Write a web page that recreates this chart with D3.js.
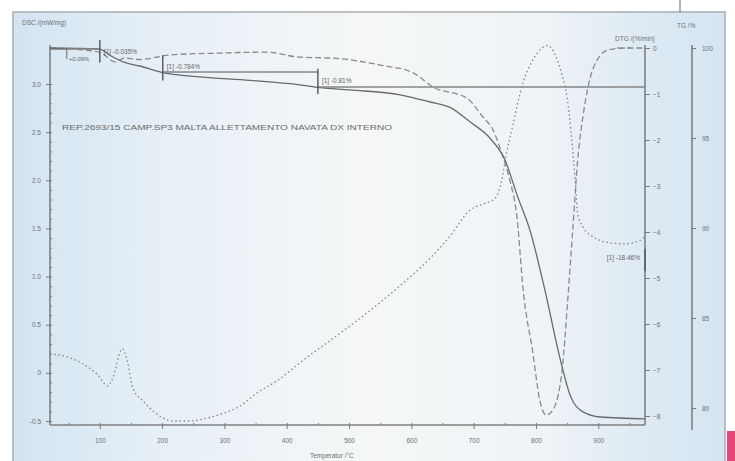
<!DOCTYPE html>
<html>
<head>
<meta charset="utf-8">
<script src="https://cdn.jsdelivr.net/npm/d3@7"></script>
<style>
  body { margin: 0; background: #fff; }
  svg { display: block; font-family: "Liberation Sans", Arial, sans-serif; }
</style>
</head>
<body>
<svg width="735" height="461"></svg>
<script>
// TG curve (mass %)
const tgTemp = [20, 100, 116, 140, 164, 205, 261, 341, 421, 453, 501, 582, 630, 662, 694, 726, 750, 770, 791, 814, 839, 855, 875, 903, 975];
const tgMass = [100, 99.94, 99.6, 99.2, 99.0, 98.6, 98.4, 98.2, 97.95, 97.8, 97.67, 97.4, 97.0, 96.7, 95.9, 95.0, 93.8, 91.8, 89.8, 86.6, 82.7, 80.7, 79.8, 79.5, 79.4];

// DTG curve (%/min)
const dtgTemp = [20, 100, 124, 140, 164, 213, 293, 368, 421, 474, 550, 603, 635, 689, 715, 731, 747, 758, 770, 779, 795, 806, 816, 827, 842, 851, 859, 867, 877, 887, 900, 916, 943, 975];
const dtgRate = [0, -0.09, -0.3, -0.22, -0.25, -0.15, -0.11, -0.09, -0.2, -0.22, -0.37, -0.54, -0.85, -1.09, -1.5, -1.78, -2.37, -2.87, -3.74, -5.2, -6.63, -7.65, -7.98, -7.87, -7.0, -5.48, -3.96, -2.43, -1.35, -0.65, -0.22, -0.04, 0, 0];

// DSC curve (mW/mg)
const dscTemp = [20, 52, 73, 95, 113, 121, 136, 144, 153, 169, 192, 217, 245, 272, 298, 325, 352, 385, 421, 469, 517, 582, 630, 662, 694, 718, 734, 745, 752, 761, 779, 795, 808, 819, 831, 842, 850, 856, 863, 867, 875, 890, 911, 943, 967, 975];
const dscFlow = [0.198, 0.156, 0.094, -0.01, -0.135, -0.05, 0.25, 0.125, -0.16, -0.29, -0.43, -0.5, -0.5, -0.47, -0.42, -0.345, -0.21, -0.08, 0.104, 0.333, 0.563, 0.906, 1.19, 1.42, 1.69, 1.76, 1.81, 2.0, 2.26, 2.52, 3.01, 3.25, 3.365, 3.4, 3.3, 3.09, 2.86, 2.52, 2.0, 1.65, 1.52, 1.42, 1.36, 1.34, 1.375, 1.417];

// ticks
const tempTicks = [100, 200, 300, 400, 500, 600, 700, 800, 900];
const dscTicks = [-0.5, 0, 0.5, 1.0, 1.5, 2.0, 2.5, 3.0];
const dscTickLabels = ["-0.5", "0", "0.5", "1.0", "1.5", "2.0", "2.5", "3.0"];
const dtgTicks = [0, -1, -2, -3, -4, -5, -6, -7, -8];
const tgTicks = [100, 95, 90, 85, 80];

// TG step evaluation marks
const stepTemps = [100, 201, 450, 975];
const stepTop = [100.45, 99.6, 98.85, 88.85];
const stepBottom = [99.2, 98.2, 97.45, 87.6];
const stepLabels = ["[1] -0.035%", "[1] -0.784%", "[1] -0.81%", "[1] -18.46%"];
const labelMass = [99.65, 98.85, 98.05, 88.2];
const levelFrom = [20, 201, 450];
const levelTo = [100, 450, 975];
const levelMass = [99.95, 98.67, 97.83];

const title = "REP.2693/15 CAMP.SP3 MALTA ALLETTAMENTO NAVATA DX INTERNO";

const svg = d3.select("svg");
const ink = "#7a7a7a";

// background frame
const grad = svg.append("defs").append("linearGradient").attr("id", "bg");
[[0, "#d3e4f1"], [0.2, "#e6eff6"], [0.5, "#f5f7f7"], [0.75, "#eef3f6"], [0.9, "#dce9f3"], [1, "#d5e5f1"]]
  .forEach(s => grad.append("stop").attr("offset", s[0]).attr("stop-color", s[1]));

svg.append("rect").attr("x", 13).attr("y", 12).attr("width", 712).attr("height", 460)
  .attr("fill", "url(#bg)").attr("stroke", "#a9adb1").attr("stroke-width", 1.5);
svg.append("line").attr("x1", 680).attr("x2", 680).attr("y1", 0).attr("y2", 12)
  .attr("stroke", "#666").attr("stroke-width", 1);
svg.append("rect").attr("x", 727).attr("y", 431).attr("width", 8).attr("height", 30).attr("fill", "#e2487c");

// scales
const x = d3.scaleLinear().domain([20, 975]).range([50, 645]);
const yDsc = d3.scaleLinear().domain([-0.5, 3.0]).range([421, 84]);
const yDtg = d3.scaleLinear().domain([-8, 0]).range([416, 48]);
const yTg = d3.scaleLinear().domain([80, 100]).range([408, 48]);

function styleAxis(g) {
  g.select(".domain").remove();
  g.selectAll("line").attr("stroke", ink);
  g.selectAll("text").attr("fill", "#6f6f6f").attr("font-size", 6.5);
}

// axis lines
const axisLines = [[50, 45, 50, 425], [50, 425, 645, 425], [645, 45, 645, 425], [692, 45, 692, 430]];
svg.append("g").selectAll("line").data(axisLines).enter().append("line")
  .attr("x1", d => d[0]).attr("y1", d => d[1]).attr("x2", d => d[2]).attr("y2", d => d[3])
  .attr("stroke", "#808080").attr("stroke-width", 1.6);

// left DSC axis
svg.append("g").attr("transform", "translate(50,0)")
  .call(d3.axisLeft(yDsc).tickValues(dscTicks).tickSize(4).tickPadding(5)
    .tickFormat((d, i) => dscTickLabels[i]))
  .call(styleAxis);
svg.append("g").attr("transform", "translate(50,0)")
  .call(d3.axisRight(yDsc).ticks(35).tickSize(2).tickFormat(""))
  .call(styleAxis);

// bottom axis
svg.append("g").attr("transform", "translate(0,425)")
  .call(d3.axisBottom(x).tickValues(tempTicks).tickSize(4).tickPadding(9))
  .call(styleAxis);
svg.append("g").attr("transform", "translate(0,425)")
  .call(d3.axisTop(x).tickValues(d3.range(50, 951, 50)).tickSize(2).tickFormat(""))
  .call(styleAxis);

// DTG axis
svg.append("g").attr("transform", "translate(645,0)")
  .call(d3.axisRight(yDtg).tickValues(dtgTicks).tickSize(5).tickPadding(3))
  .call(styleAxis);

// TG axis
svg.append("g").attr("transform", "translate(692,0)")
  .call(d3.axisRight(yTg).tickValues(tgTicks).tickSize(4).tickPadding(6))
  .call(styleAxis);

// axis titles
const labels = [
  [22, 25, "DSC /(mW/mg)", "start"],
  [615, 41, "DTG /(%/min)", "start"],
  [677, 28, "TG /%", "start"],
  [310, 458, "Temperatur /°C", "start"]
];
svg.append("g").selectAll("text").data(labels).enter().append("text")
  .attr("x", d => d[0]).attr("y", d => d[1]).attr("text-anchor", d => d[3])
  .attr("font-size", 6.5).attr("fill", "#6f6f6f").text(d => d[2]);

svg.append("line").attr("x1", 617).attr("x2", 631).attr("y1", 48).attr("y2", 48)
  .attr("stroke", ink).attr("stroke-dasharray", "5,2,1,2");

svg.append("text").attr("x", 62).attr("y", 130).attr("font-size", 6.5)
  .attr("fill", "#6a6a6a").attr("textLength", 330).attr("lengthAdjust", "spacingAndGlyphs")
  .text(title);

// curves
const mk = (xs, ys, yScale) => d3.line()
  .x((d, i) => x(xs[i])).y(d => yScale(d)).curve(d3.curveMonotoneX)(ys);

svg.append("path").attr("d", mk(dscTemp, dscFlow, yDsc))
  .attr("fill", "none").attr("stroke", "#8a8a8a").attr("stroke-width", 1.3)
  .attr("stroke-dasharray", "1.6,2.6");

svg.append("path").attr("d", mk(dtgTemp, dtgRate, yDtg))
  .attr("fill", "none").attr("stroke", "#8a8a8a").attr("stroke-width", 1.3)
  .attr("stroke-dasharray", "6,3");

svg.append("path").attr("d", mk(tgTemp, tgMass, yTg))
  .attr("fill", "none").attr("stroke", "#6a6a6a").attr("stroke-width", 1.3);

// step evaluation
const steps = svg.append("g");
steps.selectAll(".lvl").data(levelMass).enter().append("line")
  .attr("x1", (d, i) => x(levelFrom[i])).attr("x2", (d, i) => x(levelTo[i]))
  .attr("y1", d => yTg(d)).attr("y2", d => yTg(d))
  .attr("stroke", "#858585").attr("stroke-width", 1.4);
steps.selectAll(".bar").data(stepTemps).enter().append("line")
  .attr("x1", d => x(d)).attr("x2", d => x(d))
  .attr("y1", (d, i) => yTg(stepTop[i])).attr("y2", (d, i) => yTg(stepBottom[i]))
  .attr("stroke", "#555").attr("stroke-width", 1.4);
steps.selectAll(".lab").data(stepLabels).enter().append("text")
  .attr("x", (d, i) => i === 3 ? x(stepTemps[i]) - 5 : x(stepTemps[i]) + 4)
  .attr("y", (d, i) => yTg(labelMass[i]))
  .attr("text-anchor", (d, i) => i === 3 ? "end" : "start")
  .attr("font-size", 6.5).attr("fill", "#666").text(d => d);

// little first-step bracket
steps.append("path")
  .attr("d", `M${x(20)},${yTg(99.95)}H${x(47)}V${yTg(99.4)}`)
  .attr("fill", "none").attr("stroke", "#666").attr("stroke-width", 1);
steps.append("text").attr("x", x(50)).attr("y", yTg(99.3)).attr("font-size", 6)
  .attr("fill", "#666").text("+0.09%");
</script>
</body>
</html>
